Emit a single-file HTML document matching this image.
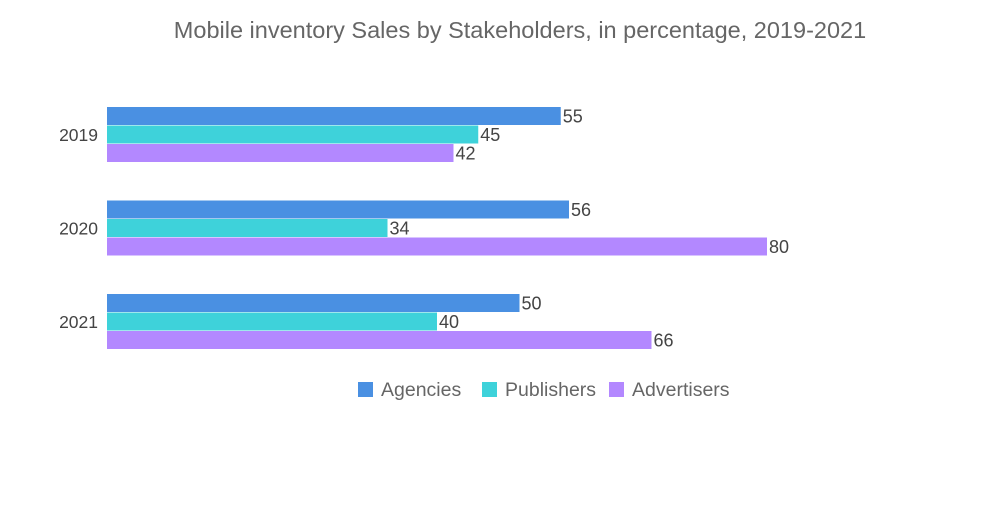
<!DOCTYPE html>
<html><head><meta charset="utf-8"><style>
html,body{margin:0;padding:0;background:#fff;}
svg text{font-family:"Liberation Sans",sans-serif;}
</style></head><body>
<svg id="chart" width="1000" height="504">
<text x="520" y="38" text-anchor="middle" font-size="23.5" fill="#666">Mobile inventory Sales by Stakeholders, in percentage, 2019-2021</text>
<g id="bars"></g>
<g id="legend"></g>
</svg>
<script>
const categories = ["2019","2020","2021"];
const seriesNames = ["Agencies","Publishers","Advertisers"];
const agencies = [55,56,50];
const publishers = [45,34,40];
const advertisers = [42,80,66];
const colors = ["#4a90e2","#3ed2da","#b388ff"];
const allSeries = [agencies,publishers,advertisers];
const NS="http://www.w3.org/2000/svg";
const x0=107, scale=8.25;
const xPos=v=>x0+v*scale;
const groupTop=i=>107+i*93.5;
const barH=18.5;
const g=document.getElementById('bars');
categories.forEach((c,i)=>{
  const t=document.createElementNS(NS,'text');
  t.setAttribute('x',98);t.setAttribute('y',groupTop(i)+barH*1.5+6);
  t.setAttribute('text-anchor','end');t.setAttribute('font-size','17.5');t.setAttribute('fill','#444');
  t.textContent=c;
  
  
  g.appendChild(t);
  allSeries.forEach((s,j)=>{
    const y=groupTop(i)+j*barH;
    const r=document.createElementNS(NS,'rect');
    r.setAttribute('x',x0);r.setAttribute('y',y);
    r.setAttribute('width',xPos(s[i])-x0);r.setAttribute('height',barH-0.5);
    r.setAttribute('fill',colors[j]);
    
    
    g.appendChild(r);
    const l=document.createElementNS(NS,'text');
    l.setAttribute('x',xPos(s[i])+2);l.setAttribute('y',y+barH/2+6);
    l.setAttribute('font-size','18');l.setAttribute('fill','#444');
    l.textContent=s[i];
    
    
    g.appendChild(l);
  });
});
const lg=document.getElementById('legend');
const lx=[358,482,609];
seriesNames.forEach((n,j)=>{
  const r=document.createElementNS(NS,'rect');
  r.setAttribute('x',lx[j]);r.setAttribute('y',382);r.setAttribute('width',15);r.setAttribute('height',15);
  r.setAttribute('fill',colors[j]);
  
  
  lg.appendChild(r);
  const t=document.createElementNS(NS,'text');
  t.setAttribute('x',lx[j]+23);t.setAttribute('y',396);t.setAttribute('font-size','19.5');t.setAttribute('fill','#666');
  t.textContent=n;
  
  
  lg.appendChild(t);
});
</script>
</body></html>
